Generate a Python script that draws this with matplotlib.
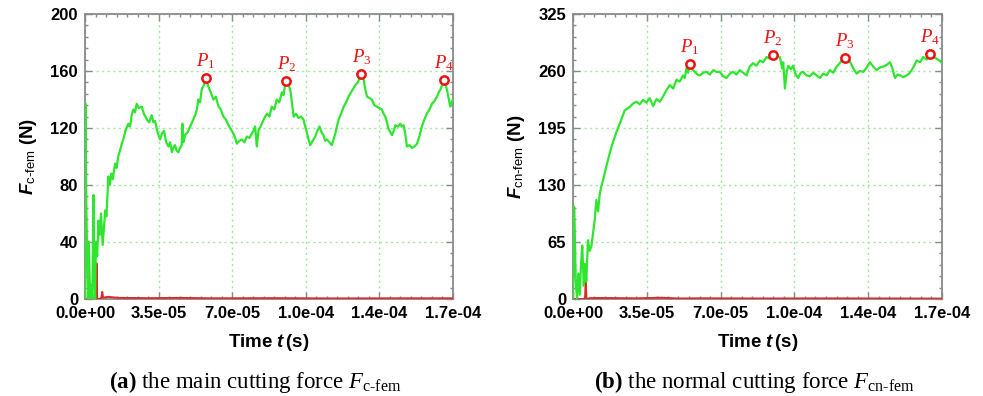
import numpy as np
import matplotlib
matplotlib.use("Agg")
import matplotlib.pyplot as plt
from matplotlib.ticker import MultipleLocator

plt.rcParams["font.family"] = ["Liberation Sans", "DejaVu Sans"]
plt.rcParams["mathtext.fontset"] = "custom"
plt.rcParams["mathtext.rm"] = "Liberation Serif"
plt.rcParams["mathtext.it"] = "Liberation Serif:italic"
plt.rcParams["mathtext.bf"] = "Liberation Serif:bold"
plt.rcParams["mathtext.bfit"] = "Liberation Sans:italic:bold"
plt.rcParams["mathtext.sf"] = "Liberation Sans"

# ---- time axis (units of 1e-5 s) ----
x_ticks = [0.0, 3.5, 7.0, 10.5, 14.0, 17.5]
x_ticklabels = ["0.0e+00", "3.5e-05", "7.0e-05", "1.0e-04", "1.4e-04", "1.7e-04"]

# ---- (a) main cutting force F_c-fem ----
t_c = [0.00, 0.02, 0.06, 0.10, 0.14, 0.18, 0.22, 0.26, 0.30, 0.35, 0.40, 0.44,
       0.48, 0.52, 0.58, 0.64, 0.70, 0.76, 0.84, 0.90, 0.96, 1.02, 1.11, 1.18,
       1.25, 1.32, 1.43, 1.50, 1.58, 1.66, 1.75, 1.84, 1.92, 2.06, 2.14, 2.22,
       2.30, 2.38, 2.46, 2.56, 2.70, 2.80, 2.94, 3.05, 3.17, 3.25, 3.33, 3.45,
       3.57, 3.66, 3.76, 3.86, 3.97, 4.05, 4.13, 4.20, 4.28, 4.36, 4.44, 4.52,
       4.60, 4.63, 4.68, 4.76, 4.88, 5.00, 5.12, 5.24, 5.32, 5.39, 5.47, 5.55,
       5.65, 5.74, 5.87, 5.98, 6.11, 6.22, 6.35, 6.46, 6.58, 6.70, 6.82, 6.94,
       7.06, 7.14, 7.22, 7.34, 7.46, 7.58, 7.70, 7.82, 7.93, 8.01, 8.09, 8.17,
       8.25, 8.41, 8.53, 8.65, 8.77, 8.88, 9.00, 9.12, 9.24, 9.36, 9.44, 9.52,
       9.57, 9.68, 9.76, 9.84, 9.92, 10.03, 10.15, 10.27, 10.39, 10.47, 10.55,
       10.63, 10.71, 10.83, 10.95, 11.05, 11.15, 11.25, 11.34, 11.42, 11.50,
       11.62, 11.74, 11.82, 11.90, 11.98, 12.06, 12.18, 12.30, 12.42, 12.53,
       12.69, 12.85, 12.97, 13.09, 13.14, 13.25, 13.33, 13.41, 13.52, 13.64,
       13.76, 13.88, 14.00, 14.12, 14.20, 14.28, 14.36, 14.44, 14.52, 14.60,
       14.68, 14.76, 14.88, 14.99, 15.07, 15.15, 15.23, 15.31, 15.43, 15.55,
       15.67, 15.79, 15.90, 16.02, 16.14, 16.26, 16.38, 16.50, 16.62, 16.74,
       16.82, 16.90, 16.98, 17.07, 17.14, 17.21, 17.29, 17.37, 17.44, 17.50]
f_c = [0, 137, 70, 30, 0, 40, 15, 0, 10, 0, 73, 20,
       0, 40, 30, 55, 45, 60, 38, 50, 62, 58, 86, 80,
       88, 84, 95, 92, 100, 104, 109, 113, 118, 123, 121, 129,
       133, 131, 137, 134, 135, 130, 126, 124, 129, 124, 125, 117,
       112, 116, 118, 110, 107, 110, 103, 106, 108, 104, 103, 106,
       108, 123, 110, 115, 117, 121, 125, 129, 133, 140, 138, 147,
       150, 155, 149, 145, 140, 142, 135, 133, 128, 126, 122, 119,
       116, 113, 109, 111, 112, 110, 114, 113, 116, 118, 121, 107,
       118, 123, 127, 130, 128, 135, 133, 140, 138, 145, 143, 151,
       153, 150, 147, 138, 128, 130, 127, 128, 126, 121, 117,
       112, 108, 111, 114, 118, 121, 117, 115, 111, 112,
       110, 108, 112, 116, 121, 126, 130, 135, 138, 142,
       146, 150, 152, 156, 158, 154, 147, 142, 141, 140,
       136, 135, 134, 133, 130, 128, 124, 119, 117, 115,
       118, 122, 121, 123, 121, 122, 116, 107, 108, 106,
       107, 109, 114, 121, 126, 130, 133, 137, 139, 142,
       145, 147, 150, 154, 151, 147, 141, 135, 138, 140]

t_c_red = [0.00, 0.40, 0.52, 0.55, 0.58, 0.70, 0.78, 0.82, 0.86, 1.10, 1.60,
           3.00, 4.50, 6.00, 9.00, 12.0, 15.0, 17.5]
f_c_red = [0, 0, 0, 25, 0, 0, 1, 5, 1, 1.5, 0.8,
           0.6, 0.8, 0.5, 0.6, 0.4, 0.5, 0.5]

peak_t_c = [5.74, 9.57, 13.14, 17.07]
peak_f_c = [155, 153, 158, 154]

# ---- (b) normal cutting force F_cn-fem ----
t_n = [0.00, 0.06, 0.13, 0.19, 0.25, 0.32, 0.38, 0.44, 0.51, 0.57, 0.63, 0.71,
       0.79, 0.87, 0.95, 1.03, 1.11, 1.19, 1.27, 1.34, 1.42, 1.50, 1.62, 1.74,
       1.86, 1.98, 2.10, 2.22, 2.34, 2.45, 2.57, 2.69, 2.85, 3.01, 3.16, 3.32,
       3.48, 3.64, 3.80, 3.96, 4.12, 4.27, 4.43, 4.59, 4.75, 4.91, 5.06, 5.22,
       5.30, 5.38, 5.46, 5.55, 5.66, 5.78, 5.90, 6.01, 6.17, 6.33, 6.49, 6.65,
       6.80, 6.96, 7.12, 7.28, 7.44, 7.59, 7.75, 7.91, 8.07, 8.23, 8.38, 8.54,
       8.70, 8.86, 9.02, 9.18, 9.34, 9.49, 9.65, 9.81, 9.92, 9.97, 10.05, 10.13,
       10.21, 10.33, 10.44, 10.56, 10.68, 10.80, 10.92, 11.07, 11.23, 11.39,
       11.55, 11.71, 11.87, 12.03, 12.18, 12.34, 12.50, 12.62, 12.74, 12.91,
       13.02, 13.13, 13.29, 13.45, 13.61, 13.77, 13.93, 14.08, 14.24, 14.40,
       14.56, 14.72, 14.88, 15.03, 15.15, 15.27, 15.39, 15.51, 15.67, 15.82,
       15.94, 16.06, 16.18, 16.30, 16.46, 16.61, 16.77, 16.93, 17.09, 17.25,
       17.37, 17.50]
f_n = [0, 105, 20, 0, 29, 5, 40, 61, 15, 40, 20, 67,
       55, 60, 75, 90, 113, 100, 120, 128, 135, 143, 155, 166,
       176, 185, 193, 200, 208, 215, 217, 219, 223, 225, 222, 227,
       224, 229, 220, 228, 225, 231, 238, 244, 240, 250, 248, 255,
       252, 263, 258, 268, 262, 259, 256, 255, 258, 259, 256, 261,
       259, 259, 254, 252, 257, 259, 256, 261, 258, 255, 265, 269,
       266, 272, 270, 276, 274, 278, 277, 276, 263, 270, 240, 258,
       266, 262, 266, 256, 252, 258, 259, 255, 254, 258,
       255, 252, 257, 255, 261, 258, 265, 268, 272, 275,
       273, 271, 263, 257, 260, 259, 264, 270, 265, 261,
       264, 265, 267, 270, 263, 252, 256, 255, 253, 255,
       257, 261, 266, 272, 270, 276, 273, 279, 276, 274,
       272, 269]

t_n_red = [0.00, 0.50, 0.57, 0.60, 0.64, 0.80, 1.20, 3.00, 4.20, 5.00, 6.00,
           9.00, 12.0, 15.0, 17.5]
f_n_red = [0, 0, 0, 20, 0, 1, 1.2, 0.8, 1.5, 0.6, 0.8, 0.6, 0.7, 0.6, 0.5]

peak_t_n = [5.55, 9.49, 12.91, 16.93]
peak_f_n = [268, 278, 275, 279]

peak_names = ["1", "2", "3", "4"]

GREEN = "#2ee62e"
RED = "#e02a2a"
GRID = "#9ee89e"
FRAME = "#8a8a8a"

fig = plt.figure(figsize=(9.83, 3.96), dpi=100)
ax_a = fig.add_axes([85 / 983, 97 / 396, 368 / 983, 285 / 396])
ax_b = fig.add_axes([573 / 983, 97 / 396, 369 / 983, 285 / 396])


def style_axes(ax, ymax, ymajor, yminor, ylabel):
    ax.set_xlim(0, 17.5)
    ax.set_ylim(0, ymax)
    ax.set_xticks(x_ticks)
    ax.set_xticklabels(x_ticklabels)
    ax.xaxis.set_minor_locator(MultipleLocator(0.5))
    ax.yaxis.set_major_locator(MultipleLocator(ymajor))
    ax.yaxis.set_minor_locator(MultipleLocator(yminor))
    ax.tick_params(which="both", direction="in", top=True, right=True,
                   color=FRAME, width=1.0)
    ax.tick_params(which="major", length=5, labelsize=12)
    ax.tick_params(axis="x", which="major", pad=5)
    ax.tick_params(axis="y", which="major", pad=5)
    ax.tick_params(which="minor", length=2.5)
    for lab in ax.get_xticklabels() + ax.get_yticklabels():
        lab.set_fontweight("bold")
    for sp in ax.spines.values():
        sp.set_color(FRAME)
        sp.set_linewidth(1.3)
    ax.grid(True, which="major", color=GRID, linestyle=(0, (1.5, 2.5)),
            linewidth=1.0)
    ax.set_axisbelow(True)
    ax.set_xlabel(r"Time $\mathbfit{t}\,$(s)", fontsize=13.5,
                  fontweight="bold", labelpad=8)
    ax.set_ylabel(ylabel, fontsize=13.5, fontweight="bold", labelpad=8)


def draw_peaks(ax, pt, pf):
    ax.plot(pt, pf, linestyle="none", marker="o", markersize=6,
            markerfacecolor="white", markeredgecolor="#ee1111",
            markeredgewidth=1.8, zorder=5)
    for x, y, n in zip(pt, pf, peak_names):
        ax.annotate(r"$P_{\mathrm{%s}}$" % n, xy=(x, y), xytext=(0, 5),
                    textcoords="offset points", ha="center", va="bottom",
                    color="#ee1111", fontsize=13.5, zorder=6,
                    annotation_clip=False)


ax_a.plot(t_c_red, f_c_red, color=RED, lw=1.4, zorder=3)
ax_a.plot(t_c, f_c, color=GREEN, lw=1.6, zorder=4)
style_axes(ax_a, 200, 40, 8, r"$\mathbfit{F}_{\mathsf{c‐fem}}$ (N)")
draw_peaks(ax_a, peak_t_c, peak_f_c)

ax_b.plot(t_n_red, f_n_red, color=RED, lw=1.4, zorder=3)
ax_b.plot(t_n, f_n, color=GREEN, lw=1.6, zorder=4)
style_axes(ax_b, 325, 65, 13, r"$\mathbfit{F}_{\mathsf{cn‐fem}}$ (N)")
draw_peaks(ax_b, peak_t_n, peak_f_n)

fig.text(255 / 983, 1 - 382 / 396,
         r"$\mathbf{(a)}$ the main cutting force $F_{\mathrm{c‐fem}}$",
         ha="center", va="center", fontsize=16.5, family="Liberation Serif")
fig.text(754 / 983, 1 - 382 / 396,
         r"$\mathbf{(b)}$ the normal cutting force $F_{\mathrm{cn‐fem}}$",
         ha="center", va="center", fontsize=16.5, family="Liberation Serif")

fig.savefig("out.png", dpi=100)
